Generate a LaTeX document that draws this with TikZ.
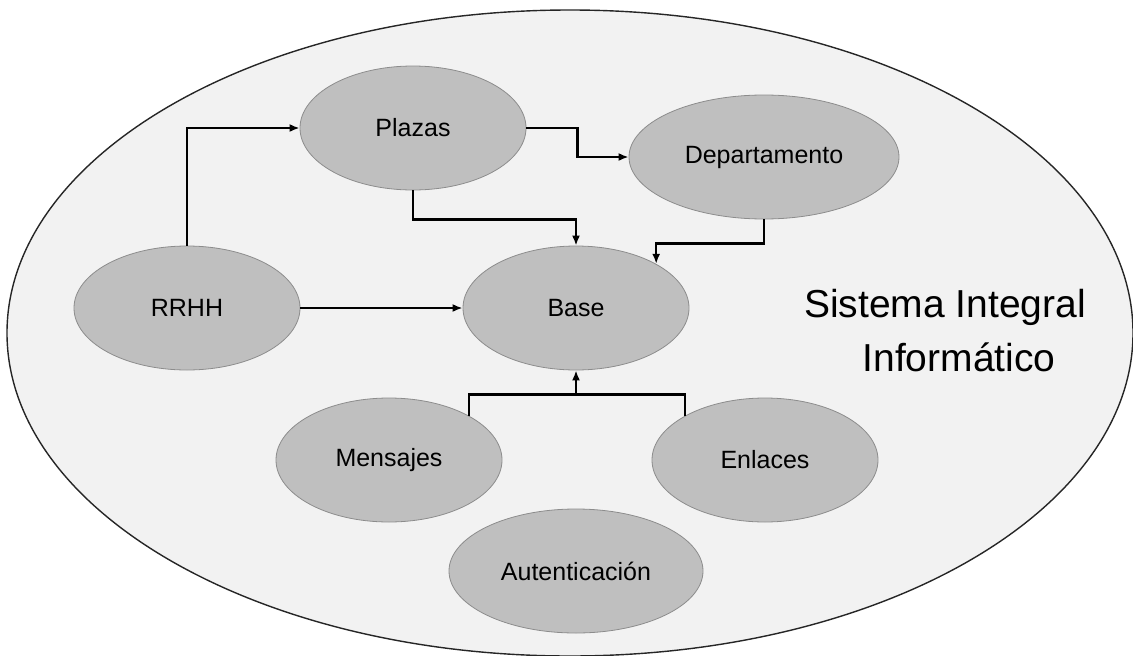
\documentclass[tikz,border=0pt]{standalone}
\usepackage{fontspec}
\setmainfont{Liberation Sans}
\usetikzlibrary{calc,shapes.geometric,arrows.meta}

\definecolor{fondo}{HTML}{F2F2F2}
\definecolor{modulo}{HTML}{BFBFBF}
\definecolor{borde}{HTML}{8C8C8C}

\begin{document}
\begin{tikzpicture}[x=1pt,y=-1pt,
    modulo/.style={ellipse, draw=borde, fill=modulo, line width=0.8pt, inner sep=0pt,
        minimum width=226pt, minimum height=124pt, font=\fontsize{25}{30}\selectfont},
    flecha/.style={draw, line width=2.2pt, -{Latex[length=10pt,width=8pt]}}]
    \useasboundingbox (0,0) rectangle (1133,656);
    \begin{scope}
    \clip (0,0) rectangle (1133,656);
    \draw[fill=fondo, line width=1.4pt, draw=black!85] (570,333) ellipse [x radius=563, y radius=323];
    \end{scope}

    \node[modulo] at (413,128) (P) {Plazas};
    \node[modulo, minimum width=270pt] at (764,157) (D) {Departamento};
    \node[modulo] at (187,308) (R) {RRHH};
    \node[modulo] at (576,308) (B) {Base};
    \node[modulo] at (389,460) (M) {Mensajes};
    \node[modulo] at (765,460) (E) {Enlaces};
    \node[modulo, minimum width=254pt] at (576,571) (A) {Autenticación};
    \node[align=center, font=\fontsize{39}{54}\selectfont] at (945,331) (T) {Sistema Integral\\ \hspace*{28pt}Informático};

    \draw[flecha] (R.north) |- (P.west);
    \draw[flecha] (P.east) -| ($(P.east)!.5!(D.west)$) |- (D.west);
    \draw[flecha] (P.south) -- ++(0,29) -| (B.north);
    \draw[flecha] (D.south) -- ++(0,24) -| (B.north east);
    \draw[flecha] (R.east) -- (B.west);
    \coordinate (J) at ($(B.south)+(0,24)$);
    \draw[draw, line width=2.2pt] (M.north east) |- (J) -| (E.north west);
    \draw[flecha] (J) -- (B.south);
\end{tikzpicture}
\end{document}
